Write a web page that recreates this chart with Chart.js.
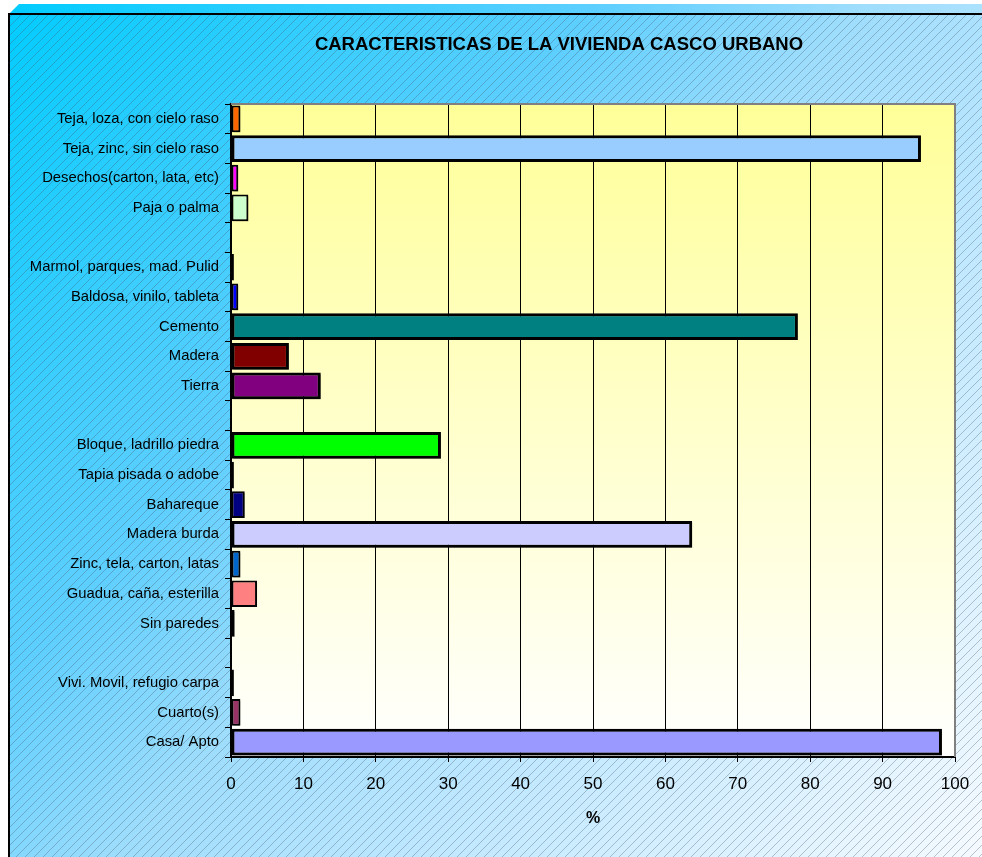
<!DOCTYPE html>
<html>
<head>
<meta charset="utf-8">
<script src="https://cdn.jsdelivr.net/npm/chart.js@4.4.1/dist/chart.umd.min.js"></script>
<style>
  html, body { margin: 0; padding: 0; background: #fff; }
  #wrap { width: 982px; height: 857px; }
</style>
</head>
<body>
<div id="wrap"><canvas id="chart" width="982" height="857"></canvas></div>
<script>
  const TITLE = 'CARACTERISTICAS DE LA VIVIENDA CASCO URBANO';
  const X_TITLE = '%';

  const categories = [
    'Teja, loza, con cielo raso', 'Teja, zinc, sin cielo raso', 'Desechos(carton, lata, etc)', 'Paja o palma',
    '',
    'Marmol, parques, mad. Pulid', 'Baldosa, vinilo, tableta', 'Cemento', 'Madera', 'Tierra',
    '',
    'Bloque, ladrillo piedra', 'Tapia pisada o adobe', 'Bahareque', 'Madera burda', 'Zinc, tela, carton, latas',
    'Guadua, caña, esterilla', 'Sin paredes',
    '',
    'Vivi. Movil, refugio carpa', 'Cuarto(s)', 'Casa/ Apto',
  ];

  const values = [
    1.3, 95.3, 1.0, 2.4,
    null,
    0.4, 1.0, 78.3, 8.0, 12.4,
    null,
    29.0, 0.4, 1.9, 63.7, 1.3,
    3.6, 0.5,
    null,
    0.4, 1.3, 98.2,
  ];

  const barColors = [
    '#FF6600', '#99CCFF', '#FF00FF', '#CCFFCC',
    '#000000',
    '#000080', '#0000FF', '#008080', '#800000', '#800080',
    '#000000',
    '#00FF00', '#000080', '#000080', '#CCCCFF', '#0066CC',
    '#FF8080', '#000080',
    '#000000',
    '#000080', '#993366', '#9999FF',
  ];

  const xTicks = [0, 10, 20, 30, 40, 50, 60, 70, 80, 90, 100];

  const FONT = '"Liberation Sans", Arial, sans-serif';

  // background, hatching, frame and plot area fill
  const backdrop = {
    id: 'backdrop',
    beforeDraw(chart) {
      const { ctx, width, height, chartArea: a } = chart;
      ctx.save();
      ctx.fillStyle = '#fff';
      ctx.fillRect(0, 0, width, height);

      const g = ctx.createLinearGradient(0, 0, width, height);
      g.addColorStop(0, '#00CCFF');
      g.addColorStop(0.35, '#5ECFFF');
      g.addColorStop(0.5, '#9EDDFC');
      g.addColorStop(0.65, '#BAE6FF');
      g.addColorStop(1, '#F5FAFF');

      // top 3d edge
      ctx.fillStyle = g;
      ctx.beginPath();
      ctx.moveTo(9, 14);
      ctx.lineTo(19, 4);
      ctx.lineTo(width, 4);
      ctx.lineTo(width, 14);
      ctx.closePath();
      ctx.fill();

      ctx.fillRect(9, 14, width - 9, height - 14);

      // hatching
      ctx.beginPath();
      ctx.rect(10, 15, width - 10, height - 15);
      ctx.clip();
      ctx.strokeStyle = 'rgba(70,90,110,0.5)';
      ctx.lineWidth = 0.7;
      ctx.beginPath();
      for (let c = 0; c < width + height; c += 9) {
        ctx.moveTo(c, 0);
        ctx.lineTo(c - height, height);
      }
      ctx.stroke();
      ctx.restore();

      // frame
      ctx.save();
      ctx.strokeStyle = '#000';
      ctx.lineWidth = 2;
      ctx.beginPath();
      ctx.moveTo(9, height);
      ctx.lineTo(9, 14);
      ctx.lineTo(width, 14);
      ctx.stroke();

      // plot area
      const pg = ctx.createLinearGradient(0, a.top, 0, a.bottom);
      pg.addColorStop(0, '#FFFF99');
      pg.addColorStop(1, '#FFFFFF');
      ctx.fillStyle = pg;
      ctx.fillRect(a.left, a.top, a.right - a.left, a.bottom - a.top);

      // title
      ctx.fillStyle = '#000';
      ctx.font = 'bold 18.5px ' + FONT;
      ctx.textAlign = 'center';
      ctx.textBaseline = 'middle';
      ctx.fillText(TITLE, 559, 45);
      ctx.restore();
    },
    beforeDatasetsDraw(chart) {
      const { ctx, chartArea: a } = chart;
      ctx.save();
      ctx.strokeStyle = '#808080';
      ctx.lineWidth = 2;
      ctx.beginPath();
      ctx.moveTo(a.left, a.top);
      ctx.lineTo(a.right, a.top);
      ctx.lineTo(a.right, a.bottom);
      ctx.stroke();
      ctx.shadowColor = 'rgba(0,0,0,0.3)';
      ctx.shadowOffsetX = 2;
      ctx.shadowOffsetY = 2;
    },
    afterDatasetsDraw(chart) {
      chart.ctx.restore();
    },
  };

  new Chart(document.getElementById('chart'), {
    type: 'bar',
    data: {
      labels: categories,
      datasets: [{
        data: values,
        backgroundColor: barColors,
        borderColor: '#000',
        borderWidth: (c) => (c.raw > 5 ? 3 : 2),
        borderSkipped: false,
        barPercentage: 0.9,
        categoryPercentage: 1,
      }],
    },
    options: {
      indexAxis: 'y',
      responsive: false,
      animation: false,
      layout: { padding: { left: 10, top: 104, right: 27, bottom: 0 } },
      plugins: { legend: { display: false }, tooltip: { enabled: false } },
      scales: {
        x: {
          min: 0,
          max: 100,
          afterBuildTicks: (scale) => { scale.ticks = xTicks.map((v) => ({ value: v })); },
          afterFit: (scale) => { scale.height = 100; },
          ticks: { color: '#000', font: { family: FONT, size: 17 }, padding: 12, maxRotation: 0 },
          grid: {
            color: (c) => (c.tick && c.tick.value === 100 ? 'rgba(0,0,0,0)' : '#000'),
            tickColor: '#000',
            lineWidth: 1,
            tickLength: 5,
          },
          border: { color: '#000', width: 2 },
          title: {
            display: true,
            text: X_TITLE,
            color: '#000',
            font: { family: FONT, size: 16, weight: 'bold' },
            padding: { top: 0, bottom: 29 },
          },
        },
        y: {
          afterFit: (scale) => { scale.width = 221; },
          ticks: { color: '#000', font: { family: FONT, size: 14.8 }, padding: 6, autoSkip: false },
          grid: { drawOnChartArea: false, offset: true, tickLength: 6, tickColor: '#000', color: '#000' },
          border: { color: '#000', width: 2 },
        },
      },
    },
    plugins: [backdrop],
  });
</script>
</body>
</html>
